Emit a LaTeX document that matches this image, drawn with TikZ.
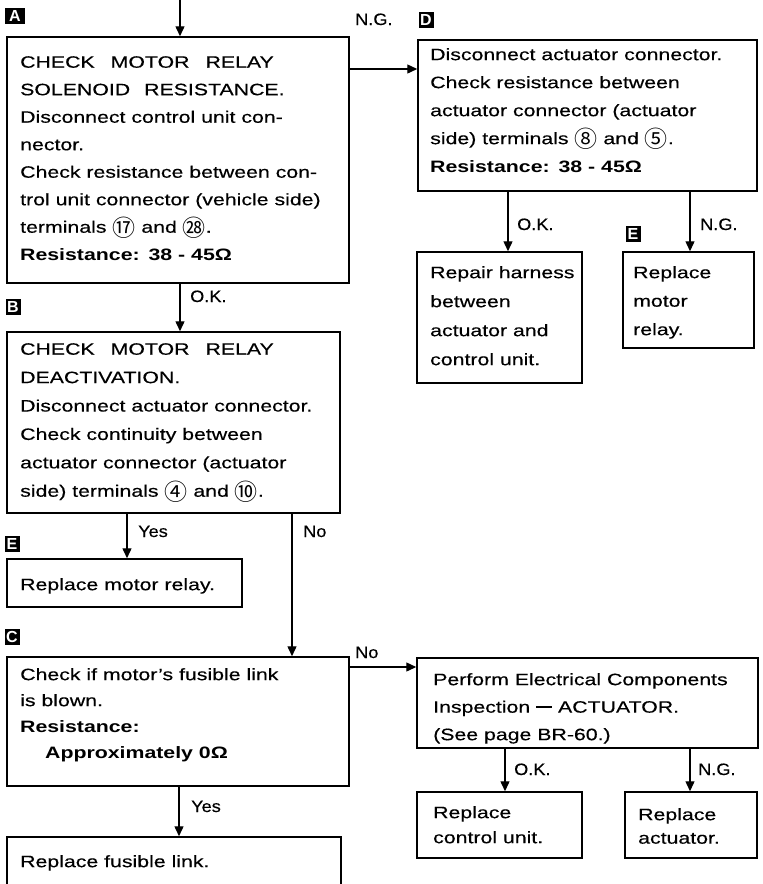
\documentclass[tikz,border=0pt]{standalone}
\usepackage{fontspec}
\setmainfont[FakeStretch=1.29, UprightFeatures={FakeBold=0.35}]{Liberation Sans}
\newfontfamily\lblfont[FakeStretch=1.1, UprightFeatures={FakeBold=0.35}]{Liberation Sans}
\newfontfamily\tagfont{Liberation Sans}
\newfontfamily\cjk{Noto Sans CJK SC}
\usetikzlibrary{arrows.meta}

% circled terminal numbers
\newcommand{\cnum}[1]{\raisebox{-3.5pt}{\cjk\fontsize{23}{23}\selectfont #1}}
% short heavy dash
\newcommand{\hvdash}{\rule[4.5pt]{16pt}{2.2pt}}

\tikzset{
  box/.style={draw, line width=1.5pt, inner sep=0pt},
  txt/.style={anchor=north west, inner sep=0pt, align=left,
              font=\fontsize{16.5}{#1}\selectfont},
  txt/.default=27.5,
  lbl/.style={anchor=base west, inner sep=0pt,
              font=\lblfont\fontsize{16.5}{18}\selectfont},
  tag/.style={fill=black, text=white, inner sep=0pt,
              minimum width=15pt, minimum height=16pt,
              font=\tagfont\bfseries\fontsize{16}{16}\selectfont},
  arr/.style={draw, line width=1.4pt, -{Triangle[length=10pt,width=9pt]}}
}

\begin{document}
\begin{tikzpicture}[x=1pt, y=-1pt]
\useasboundingbox (0,0) rectangle (763,884);
\clip (0,0) rectangle (763,884);

% ---- boxes ----
\node[box, minimum width=342pt, minimum height=246pt] (A)  at (178,160)   {};
\node[box, minimum width=339pt, minimum height=151pt] (D)  at (587.5,115.5) {};
\node[box, minimum width=165pt, minimum height=131pt] (R1) at (499.5,317.5) {};
\node[box, minimum width=131pt, minimum height=96pt]  (R2) at (688.5,300)   {};
\node[box, minimum width=333pt, minimum height=181pt] (B)  at (173.5,422.5) {};
\node[box, minimum width=235pt, minimum height=48pt]  (E1) at (124.5,583)   {};
\node[box, minimum width=342pt, minimum height=129pt] (C)  at (178,721.5)   {};
\node[box, minimum width=341pt, minimum height=90pt]  (P)  at (587.5,703)   {};
\node[box, minimum width=334pt, minimum height=80pt]  (F)  at (174,877)     {};
\node[box, minimum width=165pt, minimum height=66pt]  (RC) at (499.5,825)   {};
\node[box, minimum width=132pt, minimum height=66pt]  (RA) at (691,825)     {};

% ---- step tags ----
\node[tag, minimum width=20pt] (tA) at (15,16)  {A};
\node[tag] (tB)  at (13,307) {B};
\node[tag] (tD)  at (426,20) {D};
\node[tag] (tE2) at (633,234) {E};
\node[tag] (tE1) at (12,544) {E};
\node[tag] (tC)  at (12,637) {C};

% ---- box texts ----
\node[txt] (At) at (20,56) {%
CHECK\hspace{16pt}MOTOR\hspace{16pt}RELAY\\
SOLENOID\hspace{14pt}RESISTANCE.\\
Disconnect control unit con-\\
nector.\\
Check resistance between con-\\
trol unit connector (vehicle side)\\
terminals \cnum{⑰} and \cnum{㉘}.\\
\textbf{Resistance:\hspace{9pt}38 - 45Ω}};

\node[txt=28] (Dt) at (430,48) {%
Disconnect actuator connector.\\
Check resistance between\\
actuator connector (actuator\\
side) terminals \cnum{⑧} and \cnum{⑤}.\\
\textbf{Resistance:\hspace{9pt}38 - 45Ω}};

\node[txt=29] (R1t) at (430,266) {Repair harness\\between\\actuator and\\control unit.};
\node[txt=28.5] (R2t) at (633,266) {Replace\\motor\\relay.};

\node[txt=28.4] (Bt) at (20,343) {%
CHECK\hspace{16pt}MOTOR\hspace{16pt}RELAY\\
DEACTIVATION.\\
Disconnect actuator connector.\\
Check continuity between\\
actuator connector (actuator\\
side) terminals \cnum{④} and \cnum{⑩}.};

\node[txt] (E1t) at (20,578) {Replace motor relay.};

\node[txt=26] (Ct) at (20,668) {%
Check if motor’s fusible link\\
is blown.\\
\textbf{Resistance:}\\
\hspace{25pt}\textbf{Approximately 0Ω}};

\node[txt=27.5] (Pt) at (433,673) {%
Perform Electrical Components\\
Inspection \hvdash{} ACTUATOR.\\
(See page BR-60.)};

\node[txt=25] (RCt) at (433,806) {Replace\\control unit.};
\node[txt=23.5] (RAt) at (638,808) {Replace\\actuator.};

\node[txt] (Ft) at (20,855) {Replace fusible link.};

% ---- connectors ----
\coordinate (in0) at (180,0);
\coordinate (xAB) at (180,0);
\coordinate (yAD) at (0,69);
\coordinate (xBE) at (127,0);
\coordinate (xBC) at (292,0);
\coordinate (xCF) at (179,0);
\coordinate (yCP) at (0,667);
\coordinate (xD1) at (508,0);
\coordinate (xD2) at (690,0);
\coordinate (xP1) at (505,0);
\coordinate (xP2) at (690,0);

\draw[arr] (in0) -- (in0 |- A.north);
\draw[arr] (A.east |- yAD) -- (D.west |- yAD);
\draw[arr] (A.south -| xAB) -- (B.north -| xAB);
\draw[arr] (D.south -| xD1) -- (R1.north -| xD1);
\draw[arr] (D.south -| xD2) -- (R2.north -| xD2);
\draw[arr] (B.south -| xBE) -- (E1.north -| xBE);
\draw[arr] (B.south -| xBC) -- (C.north -| xBC);
\draw[arr] (C.south -| xCF) -- (F.north -| xCF);
\draw[arr] (C.east |- yCP) -- (P.west |- yCP);
\draw[arr] (P.south -| xP1) -- (RC.north -| xP1);
\draw[arr] (P.south -| xP2) -- (RA.north -| xP2);

% ---- connector labels ----
\node[lbl] (lAD) at (355,25)  {N.G.};
\node[lbl] (lAB) at (190,302) {O.K.};
\node[lbl] (lD1) at (517,230) {O.K.};
\node[lbl] (lD2) at (700,230) {N.G.};
\node[lbl] (lBE) at (138,537) {Yes};
\node[lbl] (lBC) at (303,537) {No};
\node[lbl] (lCP) at (355,658) {No};
\node[lbl] (lCF) at (191,812) {Yes};
\node[lbl] (lP1) at (514,775) {O.K.};
\node[lbl] (lP2) at (698,775) {N.G.};
\end{tikzpicture}
\end{document}
